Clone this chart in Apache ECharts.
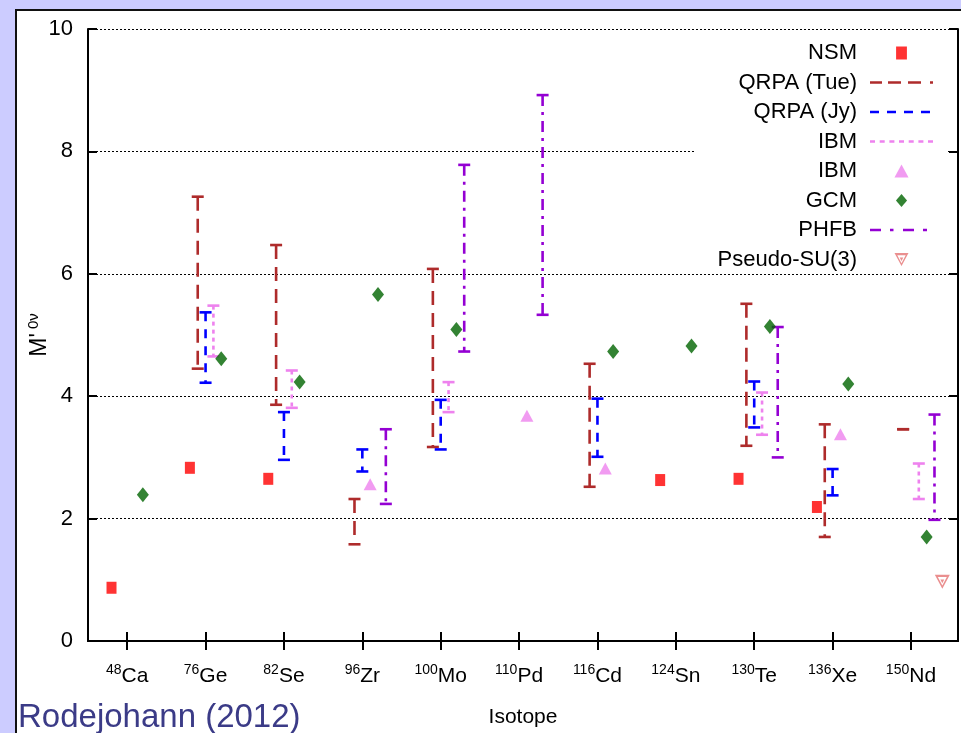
<!DOCTYPE html>
<html>
<head>
<meta charset="utf-8">
<script src="https://cdn.jsdelivr.net/npm/echarts@6/dist/echarts.min.js"></script>
<style>
  html, body { margin: 0; padding: 0; background: #CCCCFF; }
  #chart { width: 961px; height: 733px; }
</style>
</head>
<body>
<div id="chart"></div>
<script>
// Isotopes on the x axis (mass number is drawn as a superscript)
const isotopeMass    = ['48', '76', '82', '96', '100', '110', '116', '124', '130', '136', '150'];
const isotopeElement = ['Ca', 'Ge', 'Se', 'Zr', 'Mo', 'Pd', 'Cd', 'Sn', 'Te', 'Xe', 'Nd'];
const yTickValues    = [0, 2, 4, 6, 8, 10];

// Nuclear matrix elements M'0v per isotope (null = no calculation)
const nsm         = [0.87, 2.83, 2.65, null, null, null, null, 2.63, 2.65, 2.19, null];
const qrpaTueHigh = [null, 7.26, 6.47, 2.32, 6.08, null, 4.53, null, 5.51, 3.54, 3.46];
const qrpaTueLow  = [null, 4.45, 3.86, 1.58, 3.17, null, 2.52, null, 3.19, 1.70, 3.46];
const qrpaJyHigh  = [null, 5.37, 3.74, 3.13, 3.94, null, 3.96, null, 4.24, 2.81, null];
const qrpaJyLow   = [null, 4.22, 2.96, 2.77, 3.13, null, 3.01, null, 3.49, 2.38, null];
const ibmHigh     = [null, 5.48, 4.42, null, 4.23, null, null, null, 4.06, null, 2.90];
const ibmLow      = [null, 4.65, 3.81, null, 3.74, null, null, null, 3.37, null, 2.32];
const ibmPoint    = [null, null, null, 2.56, null, 3.68, 2.82, null, null, 3.38, null];
const gcm         = [2.39, 4.61, 4.23, 5.66, 5.09, null, 4.73, 4.82, 5.14, 4.20, 1.70];
const phfbHigh    = [null, null, null, 3.46, 7.78, 8.92, null, null, 5.13, null, 3.70];
const phfbLow     = [null, null, null, 2.24, 4.73, 5.33, null, null, 3.00, null, 1.98];
const pseudoSU3   = [null, null, null, null, null, null, null, null, null, null, 0.97];

// Horizontal shift of each model inside an isotope slot (axis units)
const shift = { nsm: -0.2, tue: -0.1, jy: 0, ibm: 0.1, gcm: 0.2, phfb: 0.3, su3: 0.4 };

const FONT = '"Liberation Sans", Arial, sans-serif';

function points(values, dx) {
  const out = [];
  values.forEach((v, i) => { if (v != null) out.push([i + 1 + dx, v]); });
  return out;
}
function ranges(low, high, dx) {
  const out = [];
  low.forEach((v, i) => { if (v != null) out.push([i + 1 + dx, low[i], high[i]]); });
  return out;
}

// Vertical range bar with solid caps at both ends
function rangeBar(color, dash) {
  return function (params, api) {
    const x = api.value(0);
    const a = api.coord([x, api.value(1)]);
    const b = api.coord([x, api.value(2)]);
    const cap = 6;
    const capStyle = { stroke: color, lineWidth: 2.6 };
    return {
      type: 'group',
      children: [
        { type: 'line', shape: { x1: b[0], y1: b[1], x2: a[0], y2: a[1] },
          style: { stroke: color, lineWidth: 2.6, lineDash: dash } },
        { type: 'line', shape: { x1: a[0] - cap, y1: a[1], x2: a[0] + cap, y2: a[1] }, style: capStyle },
        { type: 'line', shape: { x1: b[0] - cap, y1: b[1], x2: b[0] + cap, y2: b[1] }, style: capStyle }
      ]
    };
  };
}

const COLORS = {
  nsm: '#FF0000', tue: '#AE2B2B', jy: '#0000FF', ibm: '#EE82EE',
  gcm: '#006400', phfb: '#9400D3', su3: '#E57373'
};

const SU3_PATH = 'path://M0,0L14,0L7,13Z M7,10.2L11.2,2.2L2.8,2.2Z M7,8L8.8,4.6L5.2,4.6Z';

const legendLabels = {
  'NSM': 'NSM', 'QRPA (Tue)': 'QRPA (Tue)', 'QRPA (Jy)': 'QRPA (Jy)',
  'IBM-range': 'IBM', 'IBM-point': 'IBM', 'GCM': 'GCM', 'PHFB': 'PHFB',
  'Pseudo-SU(3)': 'Pseudo-SU(3)'
};

const chart = echarts.init(document.getElementById('chart'), null, { renderer: 'canvas' });

const xCommon = { type: 'value', min: 0.5, max: 11.6 };
const tickValues = isotopeElement.map((_, i) => i + 1);

chart.setOption({
  backgroundColor: '#CCCCFF',
  animation: false,
  graphic: [
    { type: 'rect', z: -10, shape: { x: 16, y: 10, width: 960, height: 740 },
      style: { fill: '#FFFFFF', stroke: '#111111', lineWidth: 2 } },
    { type: 'text', z: 10, style: { x: 18, y: 718, text: 'Rodejohann (2012)', fill: '#3B3B87',
      font: '33px "Liberation Sans", Arial, sans-serif', verticalAlign: 'middle' } }
  ],
  grid: { left: 88, right: 3, top: 29, bottom: 91.5, containLabel: false },
  xAxis: [
    Object.assign({}, xCommon, {
      position: 'bottom',
      name: 'Isotope', nameLocation: 'middle', nameGap: 66, nameMoveOverlap: false,
      nameTextStyle: { fontFamily: FONT, fontSize: 21, color: '#000' },
      axisLine: { lineStyle: { color: '#000', width: 2 } },
      axisTick: { inside: true, length: 9, customValues: tickValues, lineStyle: { color: '#000', width: 2 } },
      axisLabel: {
        customValues: tickValues, margin: 22, color: '#000',
        formatter: v => '{s|' + isotopeMass[v - 1] + '}{e|' + isotopeElement[v - 1] + '}',
        rich: {
          s: { fontFamily: FONT, fontSize: 14, color: '#000', padding: [0, 0, 12, 0] },
          e: { fontFamily: FONT, fontSize: 21, color: '#000' }
        }
      },
      splitLine: { show: false }
    }),
    Object.assign({}, xCommon, {
      position: 'top',
      axisLine: { lineStyle: { color: '#000', width: 2 } },
      axisTick: { inside: true, length: 9, customValues: tickValues, lineStyle: { color: '#000', width: 2 } },
      axisLabel: { show: false },
      splitLine: { show: false }
    })
  ],
  yAxis: [
    {
      type: 'value', min: 0, max: 10, interval: 2, position: 'left',
      name: "{m|M'}{s| 0ν}", nameLocation: 'middle', nameGap: 35, nameRotate: 90,
      nameMoveOverlap: false,
      nameTextStyle: {
        rich: {
          m: { fontFamily: FONT, fontSize: 23, color: '#000' },
          s: { fontFamily: FONT, fontSize: 15, color: '#000', padding: [0, 0, 12, 0] }
        }
      },
      axisLine: { show: true, lineStyle: { color: '#000', width: 2 } },
      axisTick: { inside: true, length: 9, lineStyle: { color: '#000', width: 2 } },
      axisLabel: { customValues: yTickValues, fontFamily: FONT, fontSize: 22, color: '#000', margin: 15 },
      splitLine: { show: true, lineStyle: { color: '#000', width: 1, type: [2, 2] } }
    },
    {
      type: 'value', min: 0, max: 10, interval: 2, position: 'right',
      axisLine: { show: true, lineStyle: { color: '#000', width: 2 } },
      axisTick: { inside: true, length: 9, lineStyle: { color: '#000', width: 2 } },
      axisLabel: { show: false },
      splitLine: { show: false }
    }
  ],
  legend: {
    orient: 'vertical', align: 'right', right: 13, top: 41,
    itemWidth: 63, itemHeight: 13, itemGap: 5.5,
    padding: [0, 15, 0, 23],
    backgroundColor: '#FFFFFF',
    selectedMode: false,
    textStyle: { fontFamily: FONT, fontSize: 22, color: '#000', lineHeight: 24, padding: [0, 8, 0, 0] },
    formatter: name => legendLabels[name],
    data: [
      { name: 'NSM', icon: 'path://M0,0h10v12h-10z' },
      { name: 'QRPA (Tue)', icon: 'path://M0,0h12v2.6h-12z M18,0h13v2.6h-13z M38,0h13v2.6h-13z M60,0h3v2.6h-3z' },
      { name: 'QRPA (Jy)', icon: 'path://M0,0h9v2.6h-9z M17,0h9v2.6h-9z M34,0h9v2.6h-9z M51,0h9v2.6h-9z M63,0h0.01v0.01h-0.01z' },
      { name: 'IBM-range', icon: 'path://M0,0h5v2.6h-5z M9.7,0h5v2.6h-5z M19.4,0h5v2.6h-5z M29,0h5v2.6h-5z M38.7,0h5v2.6h-5z M48.4,0h5v2.6h-5z M58,0h5v2.6h-5z' },
      { name: 'IBM-point', icon: 'path://M6.5,0L13,12L0,12Z' },
      { name: 'GCM', icon: 'path://M6,0L12,7L6,14L0,7Z' },
      { name: 'PHFB', icon: 'path://M0,0h11v2.6h-11z M20,0h3.5v2.6h-3.5z M33,0h11v2.6h-11z M53,0h4v2.6h-4z M63,0h0.01v0.01h-0.01z' },
      { name: 'Pseudo-SU(3)', icon: SU3_PATH }
    ]
  },
  series: [
    { name: 'NSM', type: 'scatter', symbol: 'rect', symbolSize: [10, 12],
      itemStyle: { color: COLORS.nsm }, data: points(nsm, shift.nsm) },
    { name: 'QRPA (Tue)', type: 'custom', renderItem: rangeBar(COLORS.tue, [14, 8]),
      itemStyle: { color: COLORS.tue }, encode: { x: 0, y: [1, 2] },
      data: ranges(qrpaTueLow, qrpaTueHigh, shift.tue) },
    { name: 'QRPA (Jy)', type: 'custom', renderItem: rangeBar(COLORS.jy, [9, 8]),
      itemStyle: { color: COLORS.jy }, encode: { x: 0, y: [1, 2] },
      data: ranges(qrpaJyLow, qrpaJyHigh, shift.jy) },
    { name: 'IBM-range', type: 'custom', renderItem: rangeBar(COLORS.ibm, [4, 4]),
      itemStyle: { color: COLORS.ibm }, encode: { x: 0, y: [1, 2] },
      data: ranges(ibmLow, ibmHigh, shift.ibm) },
    { name: 'IBM-point', type: 'scatter', symbol: 'triangle', symbolSize: [13, 12],
      itemStyle: { color: COLORS.ibm }, data: points(ibmPoint, shift.ibm) },
    { name: 'GCM', type: 'scatter', symbol: 'diamond', symbolSize: [12, 15],
      itemStyle: { color: COLORS.gcm }, data: points(gcm, shift.gcm) },
    { name: 'PHFB', type: 'custom', renderItem: rangeBar(COLORS.phfb, [11, 6, 3, 6]),
      itemStyle: { color: COLORS.phfb }, encode: { x: 0, y: [1, 2] },
      data: ranges(phfbLow, phfbHigh, shift.phfb) },
    { name: 'Pseudo-SU(3)', type: 'scatter', symbol: SU3_PATH, symbolSize: [15, 14],
      itemStyle: { color: COLORS.su3 }, data: points(pseudoSU3, shift.su3) }
  ]
});
</script>
</body>
</html>
